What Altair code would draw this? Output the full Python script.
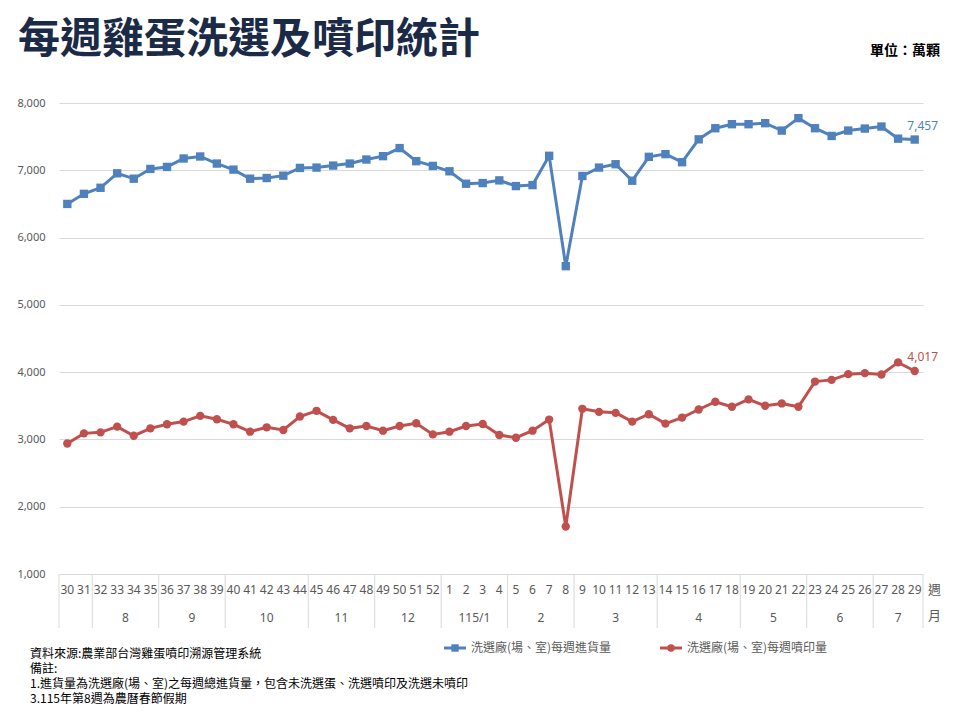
import altair as alt
import pandas as pd

# weekly figures, unit: 10,000 eggs
weeks = ["30", "31", "32", "33", "34", "35", "36", "37", "38", "39", "40", "41",
         "42", "43", "44", "45", "46", "47", "48", "49", "50", "51", "52",
         "1", "2", "3", "4", "5", "6", "7", "8", "9", "10", "11", "12", "13",
         "14", "15", "16", "17", "18", "19", "20", "21", "22", "23", "24", "25",
         "26", "27", "28", "29"]
intake = [6500, 6650, 6740, 6955, 6875, 7020, 7050, 7175, 7205, 7100, 7010, 6875,
          6885, 6920, 7035, 7040, 7070, 7100, 7160, 7210, 7330, 7135, 7065,
          6985, 6800, 6810, 6850, 6765, 6780, 7215, 5575, 6915, 7040, 7090, 6845, 7200,
          7240, 7120, 7460, 7625, 7685, 7685, 7700, 7590, 7775, 7625, 7510, 7590,
          7620, 7650, 7470, 7457]
sprayed = [2940, 3090, 3105, 3190, 3055, 3165, 3225, 3265, 3350, 3300, 3225, 3115,
           3180, 3140, 3340, 3425, 3290, 3165, 3200, 3130, 3200, 3240, 3075,
           3115, 3200, 3230, 3065, 3025, 3130, 3295, 1705, 3455, 3410, 3395, 3265, 3375,
           3235, 3325, 3445, 3560, 3485, 3595, 3500, 3535, 3485, 3860, 3885, 3970,
           3985, 3965, 4145, 4017]

month_names = ["", "8", "9", "10", "11", "12", "115/1", "2", "3", "4", "5", "6", "7"]
month_sizes = [2, 4, 4, 5, 4, 4, 4, 4, 5, 5, 4, 4, 3]

series_names = ["洗選廠(場、室)每週進貨量", "洗選廠(場、室)每週噴印量"]
series_colors = ["#4F81BD", "#C0504D"]
label_colors = ["#1F4E79", "#C00000"]

title_text = "每週雞蛋洗選及噴印統計"
unit_text = "單位：萬顆"
notes = ["資料來源:農業部台灣雞蛋噴印溯源管理系統",
         "備註:",
         "1.進貨量為洗選廠(場、室)之每週總進貨量，包含未洗選蛋、洗選噴印及洗選未噴印",
         "3.115年第8週為農曆春節假期"]

W, H = 864, 471
grey = "#595959"

# long table
rows = []
for s, vals in zip(series_names, [intake, sprayed]):
    for i, (w, v) in enumerate(zip(weeks, vals)):
        rows.append({"idx": i, "week": w, "series": s, "value": v})
df = pd.DataFrame(rows)

x = alt.X("idx:Q", scale=alt.Scale(domain=[-0.5, len(weeks) - 0.5], nice=False, zero=False), axis=None)
y = alt.Y("value:Q", scale=alt.Scale(domain=[1000, 8000], nice=False),
          axis=alt.Axis(values=list(range(1000, 8001, 1000)), format=",.0f", domain=False, ticks=False,
                        gridColor="#d9d9d9", labelPadding=14, labelFontSize=11, labelColor=grey,
                        labelFont="Noto Sans", title=None))
color = alt.Color("series:N", scale=alt.Scale(domain=series_names, range=series_colors), legend=None)

base = alt.Chart(df)
lines = base.mark_line(strokeWidth=3).encode(x, y, color)
points = base.mark_point(filled=True, opacity=1, size=70).encode(
    x, y, color,
    shape=alt.Shape("series:N", scale=alt.Scale(domain=series_names, range=["square", "circle"]), legend=None))

last = df[df["idx"] == len(weeks) - 1].copy()
last["label"] = last["value"].map("{:,}".format)
end_labels = alt.Chart(last).mark_text(dx=8, dy=-14, fontSize=12, font="Noto Sans").encode(
    x, y, text="label:N",
    color=alt.Color("series:N", scale=alt.Scale(domain=series_names, range=label_colors), legend=None))

# category axis: weeks and months
wk = pd.DataFrame({"idx": range(len(weeks)), "week": weeks})
week_text = alt.Chart(wk).mark_text(fontSize=12, font="Noto Sans", color=grey).encode(
    x, y=alt.value(H + 16), text="week:N")

bounds, centers = [-0.5], []
for n in month_sizes:
    centers.append(bounds[-1] + n / 2)
    bounds.append(bounds[-1] + n)
mo = pd.DataFrame({"idx": centers, "month": month_names})
month_text = alt.Chart(mo).mark_text(fontSize=12, font="Noto Sans", color=grey).encode(
    x, y=alt.value(H + 44), text="month:N")
seps = alt.Chart(pd.DataFrame({"idx": bounds})).mark_rule(color="#d9d9d9", strokeWidth=1).encode(
    x, y=alt.value(H), y2=alt.value(H + 54))

small = alt.Chart(pd.DataFrame({"a": ["週"], "b": ["月"]}))
wk_name = small.mark_text(fontSize=13, font="Noto Sans CJK TC", color=grey, align="left").encode(
    x=alt.value(W + 5), y=alt.value(H + 16), text="a:N")
mo_name = small.mark_text(fontSize=13, font="Noto Sans CJK TC", color=grey, align="left").encode(
    x=alt.value(W + 5), y=alt.value(H + 42), text="b:N")

title = alt.Chart(pd.DataFrame({"t": [title_text]})).mark_text(
    fontSize=42, fontWeight="bold", font="Noto Sans CJK TC", align="left", baseline="alphabetic",
    color="#1B2A47").encode(x=alt.value(-41), y=alt.value(-50), text="t:N")

unit = alt.Chart(pd.DataFrame({"t": [unit_text]})).mark_text(
    fontSize=14, fontWeight="bold", font="Noto Sans CJK TC", align="right", color="#000000").encode(
    x=alt.value(W + 17), y=alt.value(-52), text="t:N")

# footnotes, one line each
note_layers = []
for k, line in enumerate(notes):
    note_layers.append(
        alt.Chart(pd.DataFrame({"t": [line]})).mark_text(
            fontSize=12, font="Noto Sans CJK TC", align="left", baseline="middle", color="#000000").encode(
            x=alt.value(-29), y=alt.value(H + 80 + 15 * k), text="t:N"))

# hand-made legend under the plot
legend_layers = []
for name, col, shp, x0 in zip(series_names, series_colors, ["square", "circle"], [385, 601]):
    one = alt.Chart(pd.DataFrame({"t": [name]}))
    legend_layers += [
        one.mark_rule(color=col, strokeWidth=3).encode(x=alt.value(x0), x2=alt.value(x0 + 22), y=alt.value(H + 74)),
        one.mark_point(filled=True, opacity=1, size=55, shape=shp, color=col).encode(
            x=alt.value(x0 + 11), y=alt.value(H + 74)),
        one.mark_text(align="left", fontSize=12, font="Noto Sans CJK TC", color=grey).encode(
            x=alt.value(x0 + 27), y=alt.value(H + 74), text="t:N"),
    ]

chart = alt.layer(lines, points, end_labels, seps, week_text, month_text, wk_name, mo_name,
                  title, unit, *note_layers, *legend_layers).properties(
    width=W, height=H,
    autosize=alt.AutoSizeParams(type="none"),
    padding={"left": 51, "top": 95, "right": 29, "bottom": 138},
).configure_view(stroke=None)

chart.save("out.html", embed_options={"renderer": "svg", "actions": False})
